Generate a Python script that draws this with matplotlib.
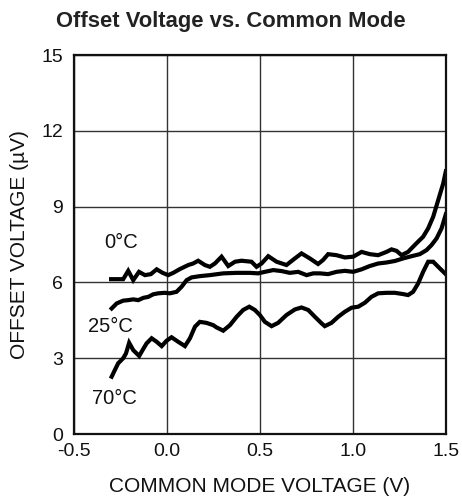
import numpy as np
import matplotlib
matplotlib.use('Agg')
import matplotlib.pyplot as plt

plt.rcParams['font.family'] = ['Liberation Sans', 'DejaVu Sans']
plt.rcParams['axes.unicode_minus'] = False

# 0°C curve
x_0c = [-0.30, -0.235, -0.208, -0.181, -0.15, -0.118, -0.086, -0.055, -0.023, 0.007,
        0.034, 0.07, 0.115, 0.141, 0.168, 0.204, 0.231, 0.258, 0.294, 0.33,
        0.366, 0.401, 0.455, 0.482, 0.509, 0.545, 0.59, 0.643, 0.688, 0.724,
        0.769, 0.813, 0.84, 0.867, 0.912, 0.957, 1.002, 1.047, 1.091, 1.136,
        1.181, 1.208, 1.235, 1.262, 1.297, 1.342, 1.378, 1.405, 1.432, 1.459,
        1.486, 1.5]
y_0c = [6.13, 6.13, 6.46, 6.09, 6.42, 6.29, 6.33, 6.52, 6.38, 6.29,
        6.38, 6.53, 6.69, 6.75, 6.86, 6.69, 6.62, 6.75, 7.02, 6.65,
        6.82, 6.86, 6.82, 6.62, 6.75, 7.04, 6.82, 6.69, 6.95, 7.15,
        6.95, 6.73, 6.89, 7.12, 7.08, 6.99, 7.02, 7.21, 7.12, 7.08,
        7.21, 7.31, 7.25, 7.08, 7.21, 7.55, 7.81, 8.14, 8.60, 9.26,
        9.92, 10.4]

# 25°C curve
x_25c = [-0.297, -0.27, -0.235, -0.208, -0.181, -0.154, -0.127, -0.1, -0.074, -0.047,
         -0.011, 0.016, 0.052, 0.079, 0.106, 0.133, 0.177, 0.231, 0.303, 0.375,
         0.446, 0.491, 0.527, 0.572, 0.617, 0.661, 0.706, 0.751, 0.787, 0.823,
         0.867, 0.912, 0.957, 1.002, 1.047, 1.091, 1.136, 1.181, 1.226, 1.27,
         1.316, 1.36, 1.396, 1.423, 1.45, 1.477, 1.5]
y_25c = [4.97, 5.17, 5.28, 5.30, 5.33, 5.30, 5.39, 5.43, 5.53, 5.57,
         5.59, 5.57, 5.63, 5.83, 6.09, 6.20, 6.25, 6.29, 6.36, 6.38,
         6.38, 6.36, 6.42, 6.49, 6.45, 6.38, 6.42, 6.29, 6.36, 6.36,
         6.33, 6.42, 6.46, 6.42, 6.52, 6.65, 6.75, 6.79, 6.85, 6.95,
         7.04, 7.12, 7.28, 7.48, 7.74, 8.14, 8.7]

# 70°C curve
x_70c = [-0.297, -0.28, -0.262, -0.235, -0.22, -0.203, -0.181, -0.149, -0.131, -0.109,
         -0.082, -0.055, -0.028, -0.002, 0.025, 0.061, 0.097, 0.124, 0.151, 0.177,
         0.213, 0.249, 0.267, 0.303, 0.339, 0.375, 0.41, 0.443, 0.473, 0.5,
         0.527, 0.563, 0.598, 0.643, 0.688, 0.724, 0.76, 0.796, 0.832, 0.849,
         0.885, 0.921, 0.957, 0.993, 1.029, 1.065, 1.1, 1.136, 1.181, 1.226,
         1.27, 1.297, 1.324, 1.351, 1.378, 1.405, 1.432, 1.459, 1.495]
y_70c = [2.27, 2.53, 2.80, 3.0, 3.19, 3.61, 3.32, 3.09, 3.32, 3.59,
         3.79, 3.65, 3.48, 3.69, 3.83, 3.65, 3.48, 3.79, 4.25, 4.44,
         4.40, 4.31, 4.22, 4.09, 4.31, 4.64, 4.91, 5.04, 4.91, 4.71,
         4.44, 4.27, 4.40, 4.71, 4.93, 5.01, 4.91, 4.64, 4.38, 4.27,
         4.40, 4.64, 4.84, 5.0, 5.04, 5.20, 5.43, 5.57, 5.59, 5.59,
         5.54, 5.50, 5.63, 5.96, 6.42, 6.82, 6.82, 6.62, 6.36]

x_ticks = [-0.5, 0.0, 0.5, 1.0, 1.5]
y_ticks = [0, 3, 6, 9, 12, 15]

fig = plt.figure(figsize=(4.62, 5.01), dpi=100)
ax = fig.add_axes([0.160, 0.1337, 0.805, 0.7563])

ax.plot(x_0c, y_0c, color='black', lw=3.0, solid_joinstyle='miter')
ax.plot(x_25c, y_25c, color='black', lw=3.0, solid_joinstyle='miter')
ax.plot(x_70c, y_70c, color='black', lw=3.0, solid_joinstyle='miter')

ax.text(-0.244, 7.6, '0°C', fontsize=14.5, ha='center', va='center', color='#111')
ax.text(-0.306, 4.25, '25°C', fontsize=14.5, ha='center', va='center', color='#111')
ax.text(-0.28, 1.41, '70°C', fontsize=14.5, ha='center', va='center', color='#111')

ax.set_xlim(-0.5, 1.5)
ax.set_ylim(0, 15)
ax.set_xticks(x_ticks)
ax.set_xticklabels(['%.1f' % v for v in x_ticks])
ax.set_yticks(y_ticks)
ax.tick_params(length=0, labelsize=14, colors='#111')
ax.tick_params(axis='x', pad=6.5)
ax.tick_params(axis='y', pad=8)
ax.grid(True, color='#333333', lw=1.0)
for s in ax.spines.values():
    s.set_linewidth(1.6)
    s.set_color('#111')

ax.set_xlabel('COMMON MODE VOLTAGE (V)', fontsize=15, color='#111', labelpad=12)
ax.set_ylabel('OFFSET VOLTAGE (µV)', fontsize=15, color='#111', labelpad=9)
fig.text(0.5, 0.958, 'Offset Voltage vs. Common Mode', ha='center', va='center',
         fontsize=15.8, fontweight='bold', color='#222')

fig.savefig('out.png', dpi=100)
